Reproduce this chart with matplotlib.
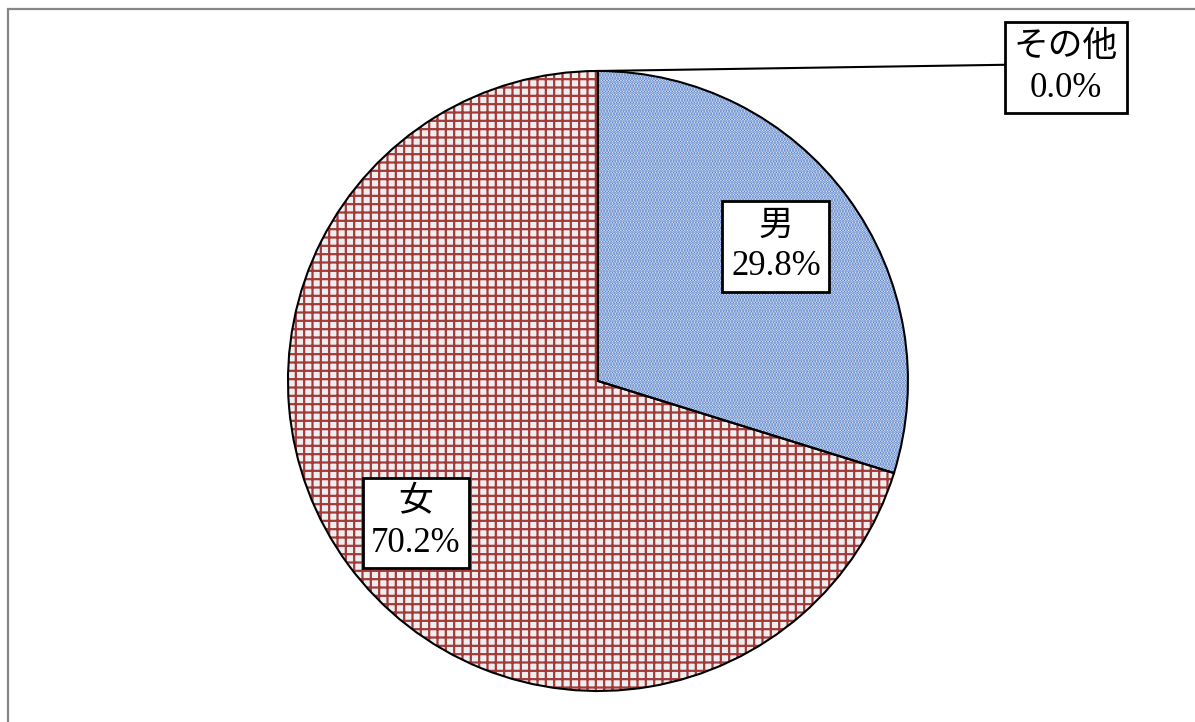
import matplotlib
matplotlib.use('Agg')
import matplotlib.pyplot as plt
from matplotlib.patches import Rectangle

# data
labels = ['男', '女', 'その他']
values = [29.8, 70.2, 0.0]
face_colors = ['white', '#eeeeee', 'white']
hatch_colors = ['#4472c4', '#a33a3a', '#4472c4']
hatches = ['......', '++', '']

# label centres, in pie radius units
label_pos = [(0.574, 0.435), (-0.587, -0.458), (1.51, 1.01)]

font = ['Liberation Serif', 'Noto Sans CJK JP']

plt.rcParams['hatch.linewidth'] = 1.6

fig = plt.figure(figsize=(11.95, 7.22), dpi=100)
ax = fig.add_axes([0, 0, 1, 1])
ax.axis('off')

# hatched fill (edge colour drives hatch colour)
wedges, _ = ax.pie(values, startangle=90, counterclock=False, radius=1.0,
                   colors=face_colors, normalize=True)
for w, hc, h in zip(wedges, hatch_colors, hatches):
    w.set_edgecolor(hc)
    w.set_hatch(h)
    w.set_linewidth(0)

# black outlines on top
outl, _ = ax.pie(values, startangle=90, counterclock=False, radius=1.0,
                 normalize=True, wedgeprops=dict(fill=False, edgecolor='black', linewidth=1.5))
ax.set_xlim(-1.929, 1.926)
ax.set_ylim(-1.1, 1.229)
ax.set_aspect('auto')

for lab, val, (x, y) in zip(labels, values, label_pos):
    ax.text(x, y, f'{lab}\n{val:.1f}%', ha='center', va='center', fontsize=25,
            family=font, linespacing=1.3, multialignment='center', zorder=5,
            bbox=dict(boxstyle='square,pad=0.25', fc='white', ec='black', lw=2))

# leader line for the zero slice
ax.plot([0, 1.31], [1.0, 1.02], color='black', lw=1.5, zorder=4)

# outer chart frame
fig.patches.append(Rectangle((7.5, -20), 1300, 722 - 8.5 + 20, transform=None,
                             fill=False, edgecolor='#868686', linewidth=1.6))

fig.savefig('out.png', dpi=100)
